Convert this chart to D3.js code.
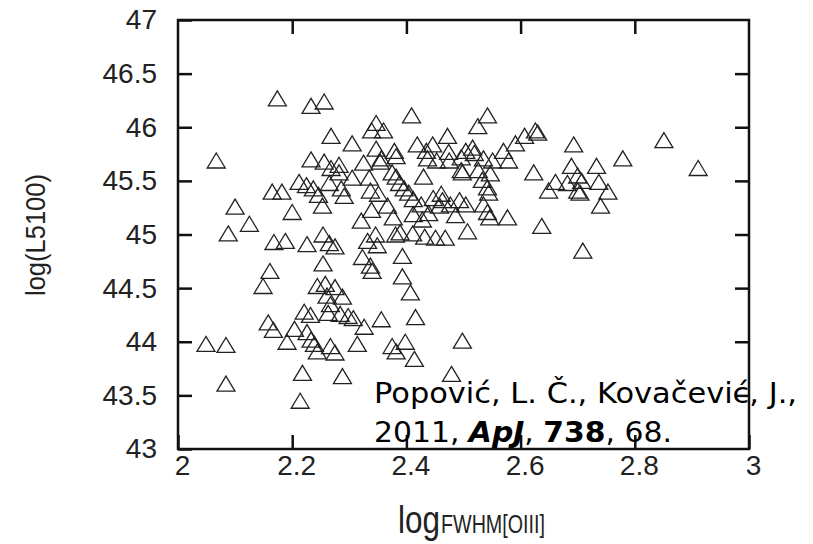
<!DOCTYPE html>
<html>
<head>
<meta charset="utf-8">
<script src="https://cdn.jsdelivr.net/npm/d3@7"></script>
<style>
  body { margin: 0; background: #fff; }
  text { font-family: "Liberation Sans", Arial, sans-serif; }
</style>
</head>
<body>
<svg id="chart" width="813" height="544"></svg>
<script>
// log FWHM[OIII] values
const fwhm = [
  2.174, 2.233, 2.256, 2.409, 2.067, 2.268, 2.305, 2.339, 2.347, 2.36,
  2.233, 2.256, 2.268, 2.282, 2.325, 2.347, 2.356, 2.379, 2.382, 2.419,
  2.435, 2.446, 2.472, 2.437, 2.453, 2.475, 2.496, 2.504, 2.165, 2.182,
  2.212, 2.225, 2.237, 2.246, 2.265, 2.282, 2.286, 2.291, 2.305, 2.335,
  2.337, 2.351, 2.375, 2.382, 2.388, 2.396, 2.404, 2.412, 2.426, 2.43,
  2.447, 2.458, 2.463, 2.477, 2.493, 2.504, 2.10, 2.125, 2.088, 2.20,
  2.253, 2.321, 2.339, 2.367, 2.377, 2.412, 2.428, 2.461, 2.439, 2.542,
  2.525, 2.607, 2.591, 2.626, 2.63, 2.474, 2.496, 2.516, 2.519, 2.535,
  2.551, 2.57, 2.579, 2.498, 2.526, 2.547, 2.623, 2.533, 2.542, 2.544,
  2.649, 2.661, 2.682, 2.486, 2.535, 2.542, 2.546, 2.577, 2.507, 2.637,
  2.693, 2.851, 2.779, 2.911, 2.689, 2.733, 2.70, 2.707, 2.70, 2.704,
  2.737, 2.753, 2.74, 2.709, 2.168, 2.188, 2.226, 2.254, 2.265, 2.275,
  2.332, 2.346, 2.349, 2.381, 2.389, 2.411, 2.432, 2.451, 2.468, 2.161,
  2.149, 2.254, 2.323, 2.337, 2.34, 2.393, 2.393, 2.407, 2.244, 2.258,
  2.275, 2.261, 2.288, 2.267, 2.221, 2.232, 2.263, 2.284, 2.298, 2.326,
  2.356, 2.416, 2.158, 2.167, 2.204, 2.191, 2.226, 2.233, 2.239, 2.244,
  2.267, 2.275, 2.314, 2.375, 2.382, 2.398, 2.414, 2.498, 2.049, 2.084,
  2.218, 2.288, 2.479, 2.084, 2.214, 2.354, 2.307
]

// log L5100 values
const l5100 = [
  46.27, 46.20, 46.24, 46.11, 45.69, 45.92, 45.85, 45.97, 46.04, 45.97,
  45.70, 45.68, 45.62, 45.65, 45.67, 45.80, 45.71, 45.78, 45.73, 45.84,
  45.78, 45.84, 45.92, 45.71, 45.69, 45.69, 45.60, 45.78, 45.40, 45.40,
  45.49, 45.46, 45.43, 45.37, 45.48, 45.58, 45.43, 45.36, 45.53, 45.53,
  45.41, 45.38, 45.58, 45.54, 45.48, 45.43, 45.39, 45.33, 45.28, 45.54,
  45.34, 45.27, 45.32, 45.28, 45.32, 45.28, 45.26, 45.10, 45.01, 45.21,
  45.27, 45.13, 45.23, 45.27, 45.16, 45.19, 45.14, 45.38, 45.20, 46.11,
  46.01, 45.92, 45.85, 45.97, 45.95, 45.77, 45.72, 45.81, 45.76, 45.71,
  45.69, 45.78, 45.69, 45.58, 45.60, 45.57, 45.58, 45.51, 45.44, 45.39,
  45.41, 45.49, 45.48, 45.18, 45.28, 45.21, 45.16, 45.16, 45.03, 45.08,
  45.84, 45.88, 45.71, 45.62, 45.64, 45.64, 45.55, 45.50, 45.41, 45.39,
  45.49, 45.40, 45.27, 44.85, 44.93, 44.94, 44.91, 45.00, 44.92, 44.89,
  44.94, 45.00, 44.90, 45.00, 45.02, 45.01, 44.98, 44.97, 44.97, 44.66,
  44.52, 44.73, 44.79, 44.71, 44.66, 44.80, 44.61, 44.46, 44.52, 44.54,
  44.51, 44.43, 44.42, 44.35, 44.28, 44.25, 44.27, 44.26, 44.24, 44.14,
  44.21, 44.23, 44.18, 44.11, 44.12, 44.00, 44.09, 44.02, 43.98, 43.91,
  43.96, 43.90, 43.98, 43.96, 43.91, 44.00, 43.84, 44.01, 43.98, 43.97,
  43.71, 43.68, 43.70, 43.61, 43.45, 45.68, 44.22
]

const xTicks = [2, 2.2, 2.4, 2.6, 2.8, 3]
const yTicks = [43, 43.5, 44, 44.5, 45, 45.5, 46, 46.5, 47]

const points = fwhm.map((d, i) => ({x: d, y: l5100[i]}))

const svg = d3.select('#chart')
const plotLeft = 178, plotRight = 749, plotTop = 20, plotBottom = 449
const tickLen = 14

const x = d3.scaleLinear().domain([2, 3]).range([plotLeft, plotRight])
const y = d3.scaleLinear().domain([43, 47]).range([plotBottom, plotTop])

// Axes (inward ticks, mirrored)
const axisStyle = g => {
  g.select('.domain').remove()
  g.selectAll('.tick line').attr('stroke', '#111').attr('stroke-width', 2.5)
  g.selectAll('.tick text')
    .attr('fill', '#222')
    .style('font-size', '28px')
}

svg.append('g')
  .attr('transform', `translate(0,${plotBottom})`)
  .call(d3.axisBottom(x).tickValues(xTicks).tickSize(-tickLen).tickPadding(6).tickFormat(d3.format('')))
  .call(axisStyle)
  .call(g => g.selectAll('.tick text').attr('dx', 4))

svg.append('g')
  .attr('transform', `translate(0,${plotTop})`)
  .call(d3.axisTop(x).tickValues(xTicks.slice(1, -1)).tickSize(-tickLen).tickFormat(''))
  .call(axisStyle)

svg.append('g')
  .attr('transform', `translate(${plotLeft},0)`)
  .call(d3.axisLeft(y).tickValues(yTicks).tickSize(-tickLen).tickPadding(21).tickFormat(d3.format('')))
  .call(axisStyle)

svg.append('g')
  .attr('transform', `translate(${plotRight},0)`)
  .call(d3.axisRight(y).tickValues(yTicks.slice(1, -1)).tickSize(-tickLen).tickFormat(''))
  .call(axisStyle)

// Frame
svg.append('rect')
  .attr('x', plotLeft).attr('y', plotTop)
  .attr('width', plotRight - plotLeft).attr('height', plotBottom - plotTop)
  .attr('fill', 'none')
  .attr('stroke', '#111')
  .attr('stroke-width', 2.5)

// Triangles
const tw = 18, th = 15
const tri = d3.line()
svg.append('g')
  .selectAll('path')
  .data(points)
  .enter()
  .append('path')
  .attr('d', d => tri([[x(d.x), y(d.y) - th / 2], [x(d.x) + tw / 2, y(d.y) + th / 2], [x(d.x) - tw / 2, y(d.y) + th / 2]]) + 'Z')
  .attr('fill', 'none')
  .attr('stroke', '#222')
  .attr('stroke-width', 1.3)

// Axis titles
svg.append('text')
  .attr('transform', 'translate(45,235) rotate(-90)')
  .attr('text-anchor', 'middle')
  .attr('fill', '#222')
  .style('font-size', '27px')
  .attr('textLength', 122).attr('lengthAdjust', 'spacingAndGlyphs')
  .text('log(L5100)')

svg.append('text')
  .attr('x', 398).attr('y', 533)
  .attr('fill', '#222')
  .style('font-size', '38px')
  .attr('textLength', 42).attr('lengthAdjust', 'spacingAndGlyphs')
  .text('log')
svg.append('text')
  .attr('x', 441).attr('y', 533)
  .attr('fill', '#222')
  .style('font-size', '26px')
  .attr('textLength', 104).attr('lengthAdjust', 'spacingAndGlyphs')
  .text('FWHM[OIII]')

// Citation
const cite = svg.append('g')
cite.append('text')
  .attr('x', 374).attr('y', 403)
  .style('font-family', '"DejaVu Sans", sans-serif')
  .style('font-size', '28px')
  .attr('textLength', 423).attr('lengthAdjust', 'spacingAndGlyphs')
  .text('Popović, L. Č., Kovačević, J.,')
const c2 = cite.append('text')
  .attr('x', 374).attr('y', 442)
  .style('font-family', '"DejaVu Sans", sans-serif')
  .style('font-size', '28px')
  .attr('textLength', 298).attr('lengthAdjust', 'spacingAndGlyphs')
c2.append('tspan').text('2011, ')
c2.append('tspan').style('font-style', 'italic').style('font-weight', 'bold').text('ApJ')
c2.append('tspan').text(', ')
c2.append('tspan').style('font-weight', 'bold').text('738')
c2.append('tspan').text(', 68.')
</script>
</body>
</html>
